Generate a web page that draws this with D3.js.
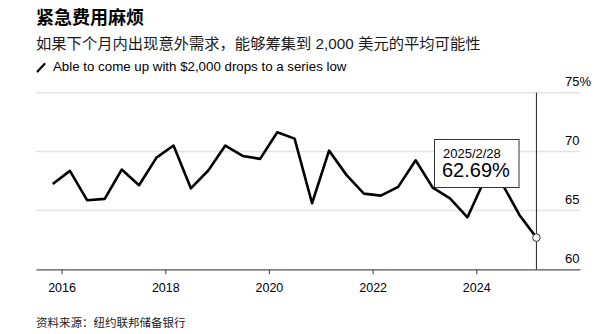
<!DOCTYPE html>
<html>
<head>
<meta charset="utf-8">
<script src="https://cdn.jsdelivr.net/npm/d3@7"></script>
<style>
  html, body { margin: 0; padding: 0; background: #fff; }
  svg { display: block; }
  text { font-family: "Liberation Sans", Arial, "Noto Sans CJK SC", sans-serif; }
  .cjk { font-family: "Liberation Sans", "Noto Sans CJK SC", sans-serif; }
</style>
</head>
<body>
<svg id="chart" width="604" height="334"></svg>
<script>
// ---- data ----
const dates = [
  "2015-10-31","2016-02-29","2016-06-30","2016-10-31",
  "2017-02-28","2017-06-30","2017-10-31",
  "2018-02-28","2018-06-30","2018-10-31",
  "2019-02-28","2019-06-30","2019-10-31",
  "2020-02-29","2020-06-30","2020-10-31",
  "2021-02-28","2021-06-30","2021-10-31",
  "2022-02-28","2022-06-30","2022-10-31",
  "2023-02-28","2023-06-30","2023-10-31",
  "2024-02-29","2024-06-30","2024-10-31",
  "2025-02-28"
];
const values = [
  67.25, 68.36, 65.86, 65.98,
  68.47, 67.14, 69.49,
  70.51, 66.88, 68.39,
  70.51, 69.63, 69.38,
  71.64, 71.10, 65.61,
  70.08, 68.02, 66.43,
  66.26, 67.00, 69.26,
  66.94, 66.03, 64.42,
  67.60, 67.30, 64.62,
  62.69
];
const yTicks = [60, 65, 70, 75];
const xTickYears = [2016, 2018, 2020, 2022, 2024];
const title = "紧急费用麻烦";
const subtitle = "如果下个月内出现意外需求，能够筹集到 2,000 美元的平均可能性";
const legendLabel = "Able to come up with $2,000 drops to a series low";
const source = "资料来源：纽约联邦储备银行";
const annoDate = "2025/2/28";
const annoValue = "62.69%";

// ---- chart ----
(function () {
const parse = d3.timeParse("%Y-%m-%d");
const data = dates.map((d, i) => ({ date: parse(d), value: values[i] }));

const svg = d3.select("#chart");
const mLeft = 36, mRight = 580, mTop = 92.7, mBottom = 269.3;

const x = d3.scaleTime()
  .domain([new Date(2015, 6, 5), new Date(2026, 0, 1)])
  .range([mLeft, mRight]);
const y = d3.scaleLinear().domain([60, 75]).range([mBottom, mTop]);

// title etc.
svg.append("text").attr("class", "cjk").attr("x", 36).attr("y", 24)
  .attr("font-size", 18).attr("font-weight", "bold").attr("fill", "#000").text(title);
svg.append("text").attr("class", "cjk").attr("x", 36).attr("y", 48.5)
  .attr("font-size", 15.3).attr("fill", "#1a1a1a").text(subtitle);

// legend
svg.append("line").attr("x1", 37.5).attr("y1", 71.5).attr("x2", 44.5).attr("y2", 64)
  .attr("stroke", "#000").attr("stroke-width", 2.2).attr("stroke-linecap", "round");
svg.append("text").attr("x", 53).attr("y", 70.5).attr("font-size", 13.3)
  .attr("fill", "#000").text(legendLabel);

// gridlines (skip baseline)
svg.append("g").selectAll("line").data(yTicks.filter(t => t !== 60)).join("line")
  .attr("x1", mLeft).attr("x2", mRight)
  .attr("y1", d => y(d)).attr("y2", d => y(d))
  .attr("stroke", "#e3e3e3").attr("stroke-width", 1.5);

// y labels
svg.append("g").selectAll("text").data(yTicks).join("text")
  .attr("x", 565).attr("y", d => y(d) - 6.5)
  .attr("font-size", 13).attr("fill", "#000")
  .text(d => d === 75 ? d + "%" : d);

// x axis
const xAxis = d3.axisBottom(x)
  .tickValues(xTickYears.map(yy => new Date(yy, 0, 1)))
  .tickFormat(d3.timeFormat("%Y"))
  .tickSize(5).tickSizeOuter(0).tickPadding(9);
const gx = svg.append("g").attr("transform", `translate(0,${mBottom})`).call(xAxis);
gx.select(".domain").attr("stroke", "#555").attr("stroke-width", 1.2);
gx.selectAll(".tick line").attr("stroke", "#555").attr("stroke-width", 1.2);
gx.selectAll(".tick text").attr("font-size", 12.5).attr("fill", "#000")
  .attr("font-family", "'Liberation Sans', Arial, sans-serif");

// vertical marker line at last date
const last = data[data.length - 1];
svg.append("line").attr("x1", x(last.date)).attr("x2", x(last.date))
  .attr("y1", mTop).attr("y2", mBottom)
  .attr("stroke", "#222").attr("stroke-width", 1);

// line
const line = d3.line().x(d => x(d.date)).y(d => y(d.value));
svg.append("path").datum(data).attr("d", line)
  .attr("fill", "none").attr("stroke", "#000").attr("stroke-width", 2.6)
  .attr("stroke-linejoin", "round");

// annotation box
const bx = 434.5, by = 139.5, bw = 84.5, bh = 48;
svg.append("rect").attr("x", bx).attr("y", by).attr("width", bw).attr("height", bh)
  .attr("fill", "#fff").attr("stroke", "#333").attr("stroke-width", 1);
svg.append("text").attr("x", bx + 8.5).attr("y", by + 18).attr("font-size", 13)
  .attr("fill", "#000").text(annoDate);
svg.append("text").attr("x", bx + 7.5).attr("y", by + 37.5).attr("font-size", 20)
  .attr("fill", "#000").text(annoValue);

// end point marker
svg.append("circle").attr("cx", x(last.date)).attr("cy", y(last.value)).attr("r", 3.8)
  .attr("fill", "#fff").attr("stroke", "#333").attr("stroke-width", 1);

// source
svg.append("text").attr("class", "cjk").attr("x", 36).attr("y", 327)
  .attr("font-size", 11.5).attr("fill", "#222").text(source);
})();
</script>
</body>
</html>
